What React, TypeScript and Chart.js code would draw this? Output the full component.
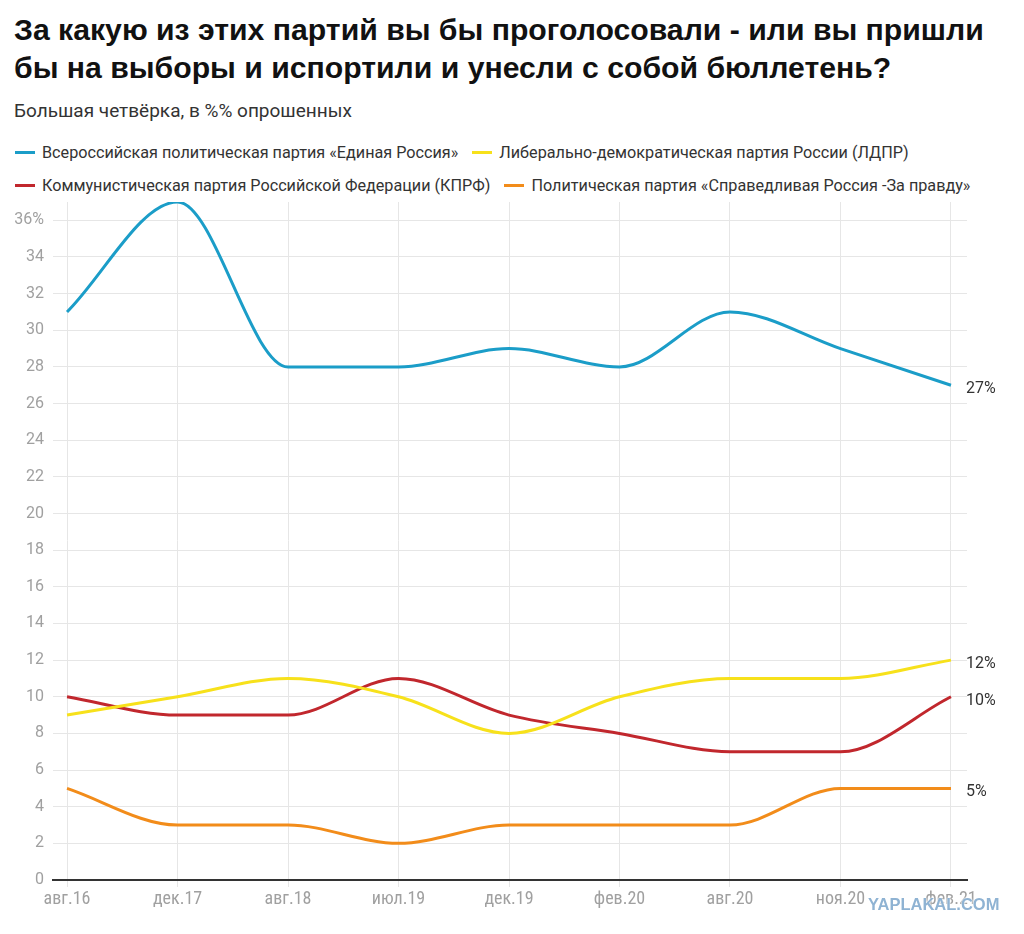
import React, { useEffect, useRef } from "react";
import { Chart, registerables } from "chart.js";

Chart.register(...registerables);

const TITLE = "За какую из этих партий вы бы проголосовали - или вы пришли бы на выборы и испортили и унесли с собой бюллетень?";
const SUBTITLE = "Большая четвёрка, в %% опрошенных";

const categories = ["авг.16", "дек.17", "авг.18", "июл.19", "дек.19", "фев.20", "авг.20", "ноя.20", "фев.21"];

const seriesNames = [
  "Всероссийская политическая партия «Единая Россия»",
  "Либерально-демократическая партия России (ЛДПР)",
  "Коммунистическая партия Российской Федерации (КПРФ)",
  "Политическая партия «Справедливая Россия -За правду»",
];
const seriesColors = ["#1b9dc8", "#f7e11b", "#c1272d", "#f28c1a"];

const edinayaRossiya = [31, 37, 28, 28, 29, 28, 31, 29, 27];
const ldpr = [9, 10, 11, 10, 8, 10, 11, 11, 12];
const kprf = [10, 9, 9, 11, 9, 8, 7, 7, 10];
const spravedlivayaRossiya = [5, 3, 3, 2, 3, 3, 3, 5, 5];
const seriesValues = [edinayaRossiya, ldpr, kprf, spravedlivayaRossiya];

const yTicks = [0, 2, 4, 6, 8, 10, 12, 14, 16, 18, 20, 22, 24, 26, 28, 30, 32, 34, 36];

const endLabelsPlugin = {
  id: "endLabels",
  afterDatasetsDraw(chart: any) {
    const ctx = chart.ctx;
    ctx.save();
    ctx.font = "16px Roboto";
    ctx.fillStyle = "#333";
    ctx.textAlign = "left";
    ctx.textBaseline = "middle";
    chart.data.datasets.forEach((ds: any, i: number) => {
      const meta = chart.getDatasetMeta(i);
      const pt = meta.data[meta.data.length - 1];
      const v = ds.data[ds.data.length - 1].y;
      ctx.fillText(v + "%", pt.x + 15, pt.y + 4);
    });
    ctx.restore();
  },
};

export default function App() {
  const ref = useRef<HTMLCanvasElement>(null);
  useEffect(() => {
    if (!ref.current) return;
    const chart = new Chart(ref.current, {
      type: "line",
      data: {
        datasets: seriesValues.map((vals, i) => ({
          label: seriesNames[i],
          data: vals.map((v, j) => ({ x: j, y: v })),
          borderColor: seriesColors[i],
          backgroundColor: seriesColors[i],
          borderWidth: 3,
          pointRadius: 0,
          cubicInterpolationMode: "monotone" as const,
          fill: false,
        })),
      },
      options: {
        animation: false,
        responsive: false,
        layout: { padding: { top: 7, right: 57, left: 0, bottom: 0 } },
        plugins: { legend: { display: false }, tooltip: { enabled: false } },
        scales: {
          x: {
            type: "linear",
            min: -0.127,
            max: 8.145,
            afterBuildTicks: (scale: any) => {
              scale.ticks = categories.map((_, i) => ({ value: i }));
            },
            afterFit: (scale: any) => {
              scale.height = 54;
              scale.paddingLeft = 0;
              scale.paddingRight = 0;
            },
            ticks: {
              callback: (v: any) => categories[v as number] ?? "",
              color: "#a0a0a0",
              font: { family: "'Liberation Sans Narrow', 'Roboto Condensed', Roboto", size: 18 },
              padding: 2,
              maxRotation: 0,
              autoSkip: false,
            },
            grid: { color: "#e6e6e6", lineWidth: 1, tickLength: 7 },
            border: { display: true, color: "#333", width: 2 },
          },
          y: {
            min: 0,
            max: 37,
            afterBuildTicks: (scale: any) => {
              scale.ticks = yTicks.map((v) => ({ value: v }));
            },
            afterFit: (scale: any) => {
              scale.width = 53;
              scale.paddingTop = 0;
              scale.paddingBottom = 0;
            },
            ticks: {
              callback: (v: any) => (v === 36 ? "36%" : String(v)),
              color: "#a0a0a0",
              font: { family: "Roboto", size: 16 },
              padding: 9,
            },
            grid: {
              color: (c: any) => (c.tick && c.tick.value === 0 ? "#333" : "#e6e6e6"),
              lineWidth: (c: any) => (c.tick && c.tick.value === 0 ? 2 : 1),
              drawTicks: false,
            },
            border: { display: false },
          },
        },
      },
      plugins: [endLabelsPlugin],
    });
    return () => chart.destroy();
  }, []);

  const legendRows = [
    [0, 1],
    [2, 3],
  ];

  return (
    <div style={{ position: "absolute", left: 0, top: 0, width: 1024, height: 934, background: "#fff", overflow: "hidden" }}>
      <div
        style={{
          position: "absolute",
          left: 14,
          top: 11,
          width: 1005,
          fontFamily: "'Liberation Sans', Arial, sans-serif",
          fontWeight: 700,
          fontSize: 30.2,
          lineHeight: "38px",
          color: "#111",
        }}
      >
        {TITLE}
      </div>
      <div
        style={{
          position: "absolute",
          left: 14,
          top: 99,
          fontFamily: "Roboto, sans-serif",
          fontSize: 19,
          color: "#333",
        }}
      >
        {SUBTITLE}
      </div>
      {legendRows.map((row, r) => (
        <div
          key={r}
          style={{
            position: "absolute",
            left: 15,
            top: 142 + r * 33,
            height: 20,
            display: "flex",
            alignItems: "center",
            fontFamily: "Roboto, sans-serif",
            fontSize: 16.2,
            color: "#333",
            whiteSpace: "nowrap",
          }}
        >
          {row.map((i, k) => (
            <div key={i} style={{ display: "flex", alignItems: "center", marginLeft: k === 0 ? 0 : 14 }}>
              <span style={{ display: "inline-block", width: 20, height: 3, background: seriesColors[i], marginRight: 7 }} />
              <span>{seriesNames[i]}</span>
            </div>
          ))}
        </div>
      ))}
      <canvas ref={ref} width={1024} height={739} style={{ position: "absolute", left: 0, top: 195 }} />
      <div
        style={{
          position: "absolute",
          left: 868,
          top: 895,
          fontFamily: "'Liberation Sans Narrow', 'Liberation Sans', sans-serif",
          fontWeight: 700,
          fontSize: 16.5,
          color: "#8fb3d3",
          textShadow: "0 0 2px #fff, 0 0 2px #fff",
        }}
      >
        YAPLAKAL.COM
      </div>
    </div>
  );
}
